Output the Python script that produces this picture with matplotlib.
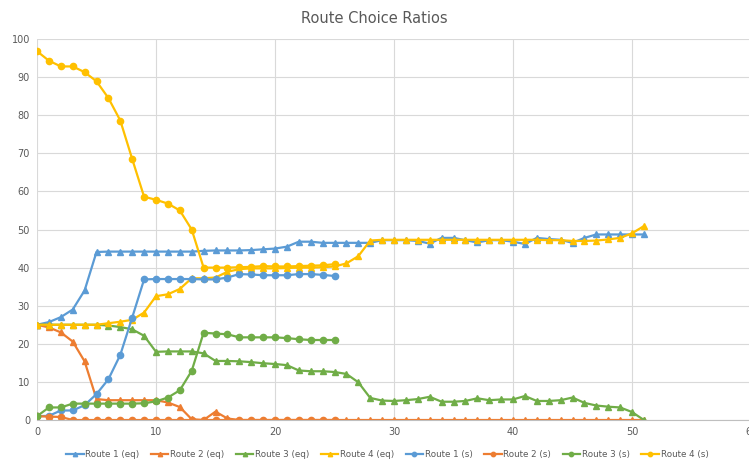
import numpy as np
import matplotlib.pyplot as plt

# route choice ratios, eq runs go to x=51, s runs stop at x=25
x_eq = np.arange(0, 52)
x_s = np.arange(0, 26)

r1_eq = [25, 25.7, 27, 29, 34, 44.1, 44.2, 44.2, 44.2, 44.2, 44.2, 44.2, 44.2, 44.2, 44.4, 44.5,
         44.5, 44.5, 44.6, 44.8, 45, 45.5, 46.8, 46.8, 46.5, 46.5, 46.5, 46.5, 46.5, 47.2,
         47.2, 47.2, 47.0, 46.3, 47.8, 47.8, 47.2, 46.6, 47.2, 47.2, 46.8, 46.2, 47.8, 47.5,
         47.3, 46.5, 47.8, 48.7, 48.7, 48.7, 48.7, 48.7]
r2_eq = [25, 24.3, 23, 20.6, 15.4, 5.5, 5.2, 5.2, 5.2, 5.2, 5.2, 4.6, 3.4, 0.2, 0, 2.2,
         0.4] + [0] * 35
r3_eq = [25, 25, 25, 25, 25, 25, 24.8, 24.4, 23.8, 22.1, 17.9, 18, 18, 18, 17.5, 15.5,
         15.5, 15.4, 15.2, 14.9, 14.7, 14.4, 13, 12.8, 12.8, 12.6, 12.1, 9.9, 5.8, 5.1,
         5.0, 5.2, 5.5, 6.1, 4.8, 4.8, 5.0, 5.7, 5.2, 5.4, 5.4, 6.3, 5.0, 5.0, 5.2, 5.9,
         4.5, 3.8, 3.5, 3.3, 2.1, 0]
r4_eq = [25, 25, 25, 25, 25, 25, 25.4, 25.8, 26.3, 28.2, 32.5, 33, 34.4, 37.2, 37.2, 37.4,
         38.9, 39.6, 39.8, 39.8, 39.8, 39.9, 40, 40, 40.1, 40.3, 41.1, 43, 47.1, 47.3,
         47.3, 47.3, 47.3, 47.3, 47.3, 47.3, 47.3, 47.3, 47.3, 47.3, 47.3, 47.3, 47.3, 47.2,
         47.2, 47.0, 47.0, 47.1, 47.4, 47.8, 49, 50.9]

r1_s = [1, 1.1, 2.5, 2.5, 3.9, 6.8, 10.7, 17.1, 26.9, 36.9, 37, 37, 37, 37, 36.9, 36.9,
        37.4, 38.3, 38.2, 38, 38, 38, 38.3, 38.3, 38.1, 37.8]
r2_s = [1, 0.9, 0.8] + [0] * 23
r3_s = [1, 3.3, 3.3, 4.3, 4.3, 4.3, 4.3, 4.3, 4.3, 4.4, 4.9, 5.9, 7.8, 12.9, 22.9, 22.7,
        22.5, 21.7, 21.7, 21.7, 21.7, 21.5, 21.2, 21.0, 21.0, 21.0]
r4_s = [96.8, 94.3, 92.8, 92.8, 91.3, 88.9, 84.5, 78.6, 68.5, 58.6, 57.8, 56.8, 55, 50, 40,
        40, 40, 40.1, 40.2, 40.4, 40.3, 40.3, 40.4, 40.5, 40.6, 40.9]

names = ['Route 1', 'Route 2', 'Route 3', 'Route 4']
colors = ['#5B9BD5', '#ED7D31', '#70AD47', '#FFC000']

fig = plt.figure(figsize=(7.49, 4.61), dpi=100)
ax = fig.add_axes([37/749, 0.0889, 714/749, 0.8265])

for ys, name, c in zip([r1_eq, r2_eq, r3_eq, r4_eq], names, colors):
    ax.plot(x_eq, ys, color=c, lw=1.6, marker='^', ms=4.5, label=name + ' (eq)')
for ys, name, c in zip([r1_s, r2_s, r3_s, r4_s], names, colors):
    ax.plot(x_s, ys, color=c, lw=1.6, marker='o', ms=4.5, label=name + ' (s)')

ax.set_xlim(0, 60)
ax.set_ylim(0, 100)
ax.set_xticks(np.arange(0, 61, 10))
ax.set_yticks(np.arange(0, 101, 10))
ax.grid(True, color='#d9d9d9', lw=0.8)
ax.set_axisbelow(True)
for s in ['top', 'right', 'left']:
    ax.spines[s].set_visible(False)
ax.spines['bottom'].set_color('#bfbfbf')
ax.tick_params(length=0, labelsize=7, colors='#595959', pad=5)

fig.suptitle('Route Choice Ratios', y=0.977, fontsize=10.5, color='#595959')
fig.legend(loc='lower center', ncol=8, frameon=False, fontsize=6.3,
           bbox_to_anchor=(0.517, -0.012), handlelength=2.0, columnspacing=1.3,
           handletextpad=0.2, markerscale=0.7, labelcolor='#595959')

fig.savefig('out.png', dpi=100)
